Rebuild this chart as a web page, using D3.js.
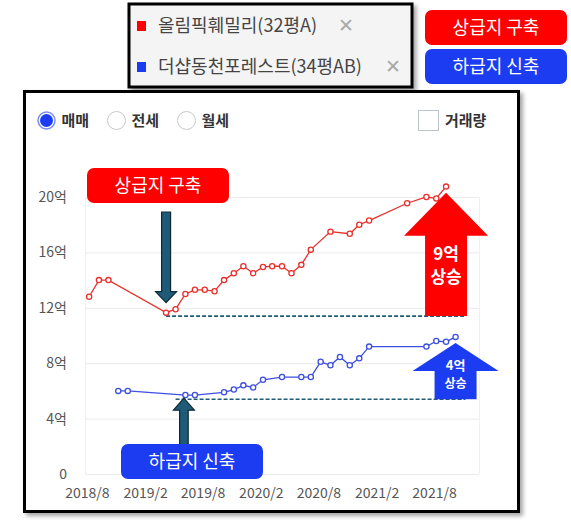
<!DOCTYPE html>
<html>
<head>
<meta charset="utf-8">
<script src="https://cdn.jsdelivr.net/npm/d3@7"></script>
<style>
  body { margin: 0; background: #fff; }
  svg { display: block; font-family: "Noto Sans CJK KR", "Noto Sans", sans-serif; }
</style>
</head>
<body>
<div id="chart"></div>
<script>
// series: 올림픽훼밀리 (32평A), 매매 실거래가 (억)
const redMonths = ["2018-08", "2018-09", "2018-10", "2019-04", "2019-05", "2019-06", "2019-07",
    "2019-08", "2019-09", "2019-10", "2019-11", "2019-12", "2020-01", "2020-02", "2020-03",
    "2020-04", "2020-05", "2020-06", "2020-07", "2020-09", "2020-11", "2020-12", "2021-01",
    "2021-05", "2021-07", "2021-08", "2021-09"];
const redValues = [12.8, 14.0, 14.0, 11.65, 11.9, 13.0, 13.3, 13.3, 13.2, 14.0, 14.5, 15.0,
    14.5, 14.95, 15.0, 15.0, 14.5, 15.1, 16.2, 17.5, 17.35, 18.0, 18.3, 19.55, 20.0, 19.9, 20.75];

// series: 더샵동천포레스트 (34평AB)
const blueMonths = ["2018-11", "2018-12", "2019-06", "2019-07", "2019-10", "2019-11", "2019-12",
    "2020-01", "2020-02", "2020-04", "2020-06", "2020-07", "2020-08", "2020-09", "2020-10",
    "2020-11", "2020-12", "2021-01", "2021-07", "2021-08", "2021-09", "2021-10"];
const blueValues = [6.0, 6.0, 5.7, 5.7, 5.9, 6.1, 6.4, 6.25, 6.8, 7.0, 7.0, 7.0, 8.1, 7.85,
    8.45, 7.85, 8.35, 9.2, 9.2, 9.6, 9.55, 9.9];

const xTicks = ["2018-08", "2019-02", "2019-08", "2020-02", "2020-08", "2021-02", "2021-08"];
const yTicks = [0, 4, 8, 12, 16, 20];

const legendNames = ["올림픽훼밀리(32평A)", "더샵동천포레스트(34평AB)"];
const radioLabels = ["매매", "전세", "월세"];

// annotations (값 기준)
const redLow = { from: "2019-04", to: "2021-11", value: 11.4 };
const blueLow = { from: "2019-05", to: "2021-11", value: 5.4 };
const redRise = { month: "2021-09", from: 11.4, to: 20.3, label: ["9억", "상승"] };
const blueRise = { month: "2021-10", from: 5.4, to: 9.45, label: ["4억", "상승"] };

const RED = "#ff0000";
const BLUE = "#1c3cf2";
const TEAL = "#1f5a76";

const parseMonth = d3.timeParse("%Y-%m");
const mid = s => d3.timeDay.offset(parseMonth(s), 7); // deals plotted around mid-month

const width = 571, height = 531;

const svg = d3.select("#chart").append("svg")
    .attr("width", width)
    .attr("height", height);

const defs = svg.append("defs");
const shadow = defs.append("filter").attr("id", "shadow")
    .attr("x", "-5%").attr("y", "-5%").attr("width", "115%").attr("height", "115%");
shadow.append("feDropShadow")
    .attr("dx", 3).attr("dy", 3).attr("stdDeviation", 2)
    .attr("flood-color", "#000").attr("flood-opacity", 0.35);

// ---- legend box
svg.append("rect")
    .attr("x", 129).attr("y", 4).attr("width", 283).attr("height", 83)
    .attr("fill", "#f4f4f4").attr("stroke", "#000").attr("stroke-width", 3)
    .attr("filter", "url(#shadow)");

const legendColors = [RED, BLUE];
const legendX = [338, 385];
legendNames.forEach((name, i) => {
    const cy = 26 + i * 41;
    svg.append("rect")
        .attr("x", 137).attr("y", cy - 5).attr("width", 9).attr("height", 10)
        .attr("fill", legendColors[i]);
    svg.append("text")
        .attr("x", 158).attr("y", cy + 6)
        .attr("font-size", "18px").attr("fill", "#444")
        .text(name);
    svg.append("text")
        .attr("x", legendX[i]).attr("y", cy + 6)
        .attr("font-size", "19px").attr("fill", "#aaa")
        .text("✕");
});

// ---- top right buttons
[["상급지 구축", RED], ["하급지 신축", BLUE]].forEach((b, i) => {
    const y0 = 10 + i * 39;
    svg.append("rect")
        .attr("x", 425).attr("y", y0).attr("width", 142).attr("height", 35)
        .attr("rx", 7).attr("fill", b[1]);
    svg.append("text")
        .attr("x", 496).attr("y", y0 + 24)
        .attr("text-anchor", "middle")
        .attr("font-size", "18px").attr("fill", "#fff")
        .text(b[0]);
});

// ---- main frame
svg.append("rect")
    .attr("x", 24.5).attr("y", 91.5).attr("width", 494).attr("height", 420)
    .attr("fill", "#fff").attr("stroke", "#000").attr("stroke-width", 3)
    .attr("filter", "url(#shadow)");

// radio buttons
radioLabels.forEach((label, i) => {
    const cx = 46.5 + i * 70;
    const g = svg.append("g");
    if (i === 0) {
        g.append("circle").attr("cx", cx).attr("cy", 120.5).attr("r", 8.5)
            .attr("fill", "#fff").attr("stroke", "#7d8cf0").attr("stroke-width", 1.5);
        g.append("circle").attr("cx", cx).attr("cy", 120.5).attr("r", 6.5)
            .attr("fill", "#1c3cf2");
    } else {
        g.append("circle").attr("cx", cx).attr("cy", 120.5).attr("r", 9)
            .attr("fill", "#fff").attr("stroke", "#c8c8c8").attr("stroke-width", 1);
    }
    g.append("text")
        .attr("x", cx + 15).attr("y", 126)
        .attr("font-size", "15px").attr("font-weight", "bold").attr("fill", "#333")
        .text(label);
});

// checkbox
svg.append("rect")
    .attr("x", 418.5).attr("y", 110.5).attr("width", 20).attr("height", 20)
    .attr("fill", "#fff").attr("stroke", "#bcc3cc").attr("stroke-width", 1);
svg.append("text")
    .attr("x", 445).attr("y", 126)
    .attr("font-size", "15px").attr("font-weight", "bold").attr("fill", "#333")
    .text("거래량");

// ---- scales
const x = d3.scaleTime()
    .domain([new Date(2018, 6, 26), new Date(2021, 11, 21)])
    .range([85, 479]);

const y = d3.scaleLinear()
    .domain([0, 20])
    .range([474, 197]);

const plot = svg.append("g");

// gridlines
plot.append("g")
    .selectAll("line")
    .data(yTicks)
    .join("line")
    .attr("x1", 85).attr("x2", 479)
    .attr("y1", d => y(d) + 0.5).attr("y2", d => y(d) + 0.5)
    .attr("stroke", "#ebebeb");

plot.selectAll(".vborder")
    .data(x.range())
    .join("line")
    .attr("class", "vborder")
    .attr("x1", d => d + 0.5).attr("x2", d => d + 0.5)
    .attr("y1", y(20)).attr("y2", y(0))
    .attr("stroke", "#f0f0f0");

// y axis
const yAxis = plot.append("g")
    .attr("transform", "translate(67,0)")
    .call(d3.axisLeft(y).tickValues(yTicks).tickSize(0).tickPadding(0)
        .tickFormat(d => d === 0 ? "0" : d + "억"));
yAxis.select(".domain").remove();
yAxis.selectAll("text")
    .attr("font-family", "'Noto Sans CJK KR', sans-serif")
    .attr("font-size", "14px").attr("fill", "#555");

// x axis
const xAxis = plot.append("g")
    .attr("transform", "translate(0,488)")
    .call(d3.axisBottom(x).tickValues(xTicks.map(parseMonth)).tickSize(0).tickPadding(0)
        .tickFormat(d3.timeFormat("%Y/%-m")));
xAxis.select(".domain").remove();
xAxis.selectAll("text")
    .attr("font-family", "'Noto Sans CJK KR', sans-serif")
    .attr("font-size", "14px").attr("fill", "#555");

// ---- dashed low lines
[redLow, blueLow].forEach(a => {
    plot.append("line")
        .attr("x1", x(mid(a.from))).attr("x2", x(mid(a.to)))
        .attr("y1", y(a.value)).attr("y2", y(a.value))
        .attr("stroke", TEAL).attr("stroke-width", 1.6)
        .attr("stroke-dasharray", "4,2");
});

// ---- series
function drawSeries(months, values, color) {
    const data = months.map((m, i) => ({ date: mid(m), value: values[i] }));
    const line = d3.line().x(d => x(d.date)).y(d => y(d.value));
    plot.append("path")
        .datum(data)
        .attr("d", line)
        .attr("fill", "none")
        .attr("stroke", color)
        .attr("stroke-width", 1.3);
    plot.append("g")
        .selectAll("circle")
        .data(data)
        .join("circle")
        .attr("cx", d => x(d.date))
        .attr("cy", d => y(d.value))
        .attr("r", 2.6)
        .attr("fill", "#fff")
        .attr("stroke", color)
        .attr("stroke-width", 1.3);
}

drawSeries(redMonths, redValues, "#e8302c");
drawSeries(blueMonths, blueValues, "#3d4fe0");

// ---- big rise arrows
function riseArrow(a, color, headH, headW, shaftW, fontSizes, firstBase, lineGap) {
    const cx = x(mid(a.month));
    const top = y(a.to), bottom = y(a.from);
    const hb = top + headH;
    const path = d3.path();
    path.moveTo(cx, top);
    path.lineTo(cx + headW, hb);
    path.lineTo(cx + shaftW, hb);
    path.lineTo(cx + shaftW, bottom);
    path.lineTo(cx - shaftW, bottom);
    path.lineTo(cx - shaftW, hb);
    path.lineTo(cx - headW, hb);
    path.closePath();
    svg.append("path").attr("d", path.toString()).attr("fill", color);

    a.label.forEach((t, i) => {
        svg.append("text")
            .attr("x", cx).attr("y", hb + firstBase + i * lineGap)
            .attr("text-anchor", "middle")
            .attr("font-size", fontSizes[i] + "px").attr("font-weight", "bold")
            .attr("fill", "#fff")
            .text(t);
    });
}

riseArrow(redRise, RED, 43, 42, 21, [17, 17], 24, 23);
riseArrow(blueRise, BLUE, 28, 43, 21, [13, 12], -1, 18);

// ---- small teal pointer arrows
function pointer(cx, tail, tip, headH, headW, shaftW) {
    const dir = tip > tail ? 1 : -1;
    const hb = tip - dir * headH;
    const path = d3.path();
    path.moveTo(cx - shaftW, tail);
    path.lineTo(cx + shaftW, tail);
    path.lineTo(cx + shaftW, hb);
    path.lineTo(cx + headW, hb);
    path.lineTo(cx, tip);
    path.lineTo(cx - headW, hb);
    path.lineTo(cx - shaftW, hb);
    path.closePath();
    svg.append("path").attr("d", path.toString())
        .attr("fill", TEAL).attr("stroke", "#0e2a38").attr("stroke-width", 1.2);
}

// down onto the 2019-04 low of the red series
pointer(x(mid("2019-04")), 212, y(redValues[3]) - 10, 11, 10.5, 4.5);
// up onto the blue low line
pointer(x(mid("2019-06")) - 1.5, 446, y(blueLow.value) - 1, 12, 10.5, 4.3);

// ---- label boxes in plot
function labelBox(x0, y0, w, h, color, text) {
    svg.append("rect")
        .attr("x", x0).attr("y", y0).attr("width", w).attr("height", h)
        .attr("rx", 7).attr("fill", color);
    svg.append("text")
        .attr("x", x0 + w / 2).attr("y", y0 + h / 2 + 6.5)
        .attr("text-anchor", "middle")
        .attr("font-size", "18px").attr("fill", "#fff")
        .text(text);
}

labelBox(87, 168, 142, 35, RED, "상급지 구축");
labelBox(121, 444, 142, 35, BLUE, "하급지 신축");
</script>
</body>
</html>
